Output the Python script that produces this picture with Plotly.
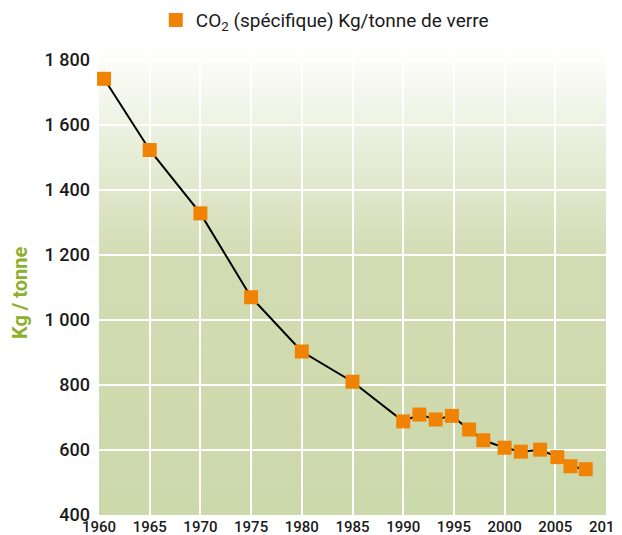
import base64
import plotly.graph_objects as go

# Data
years = [1960.5, 1965, 1970, 1975, 1980, 1985, 1990, 1991.6, 1993.2, 1994.8,
         1996.5, 1997.9, 2000, 2001.6, 2003.5, 2005.2, 2006.5, 2008]
co2 = [1742, 1523, 1328, 1070, 903, 810, 688, 709, 694, 705,
       663, 630, 607, 595, 601, 578, 550, 541]
series_name = "CO<sub>2</sub> (spécifique) Kg/tonne de verre"
y_title = "Kg / tonne"
x_ticks = [1960, 1965, 1970, 1975, 1980, 1985, 1990, 1995, 2000, 2005, 2010]
y_ticks = [400, 600, 800, 1000, 1200, 1400, 1600, 1800]

ORANGE = "#F08204"
GREEN_TXT = "#8DB02C"
FONT = "Roboto"

svg = (
    '<svg xmlns="http://www.w3.org/2000/svg" width="100" height="100" '
    'viewBox="0 0 100 100" preserveAspectRatio="none">'
    '<defs><linearGradient id="g" x1="0" y1="0" x2="0" y2="1">'
    '<stop offset="0" stop-color="#FFFFFF"/>'
    '<stop offset="0.45" stop-color="#D2DCB3"/>'
    '<stop offset="1" stop-color="#CCD9AB"/>'
    '</linearGradient></defs>'
    '<rect x="0" y="0" width="100" height="100" fill="url(#g)"/></svg>'
)
src = "data:image/svg+xml;base64," + base64.b64encode(svg.encode()).decode()

fig = go.Figure()
fig.add_trace(go.Scatter(
    x=years, y=co2, mode="lines", line=dict(color="#000000", width=2),
    showlegend=False, hoverinfo="skip", cliponaxis=False,
))
fig.add_trace(go.Scatter(
    x=years, y=co2, mode="markers", name=series_name,
    marker=dict(symbol="square", size=14, color=ORANGE, line=dict(width=0)),
    cliponaxis=False,
))

fig.add_layout_image(dict(
    source=src, xref="paper", yref="paper", x=0, y=1, sizex=1, sizey=1,
    xanchor="left", yanchor="top", sizing="stretch", layer="below",
))

fig.add_annotation(
    text=y_title, xref="paper", yref="paper", x=-0.156, y=0.472,
    xanchor="center", yanchor="middle",
    textangle=-90, showarrow=False,
    font=dict(family=FONT, size=20, color=GREEN_TXT, weight="bold"),
)

# page body has an 8px margin: shrink figure so it ends at the window edge
fig.update_layout(
    width=614, height=527,
    margin=dict(l=91, r=16, t=37, b=20, autoexpand=False),
    paper_bgcolor="white",
    plot_bgcolor="rgba(0,0,0,0)",
    separators=", ",
    font=dict(family=FONT, color="#1a1a1a"),
    legend=dict(
        orientation="h", x=0.112, xanchor="left", y=1.053, yanchor="middle",
        font=dict(family=FONT, size=19, color="#1a1a1a"),
        bgcolor="rgba(0,0,0,0)", itemwidth=30,
    ),
    xaxis=dict(
        range=[1960, 2010], tickvals=x_ticks, showgrid=True,
        gridcolor="white", gridwidth=2, zeroline=False, showline=False,
        ticks="", tickfont=dict(family=FONT, size=15, color="#1a1a1a", weight=500),
        ticklabelstandoff=1, automargin=False, ticklabeloverflow="allow",
    ),
    yaxis=dict(
        range=[400, 1846], tickvals=y_ticks, tickformat=",d", showgrid=True,
        gridcolor="white", gridwidth=2, zeroline=False, showline=False,
        ticks="", tickfont=dict(family=FONT, size=18, color="#1a1a1a", weight=500),
        ticklabelstandoff=8, automargin=False,
    ),
)

fig.write_html("out.html")
